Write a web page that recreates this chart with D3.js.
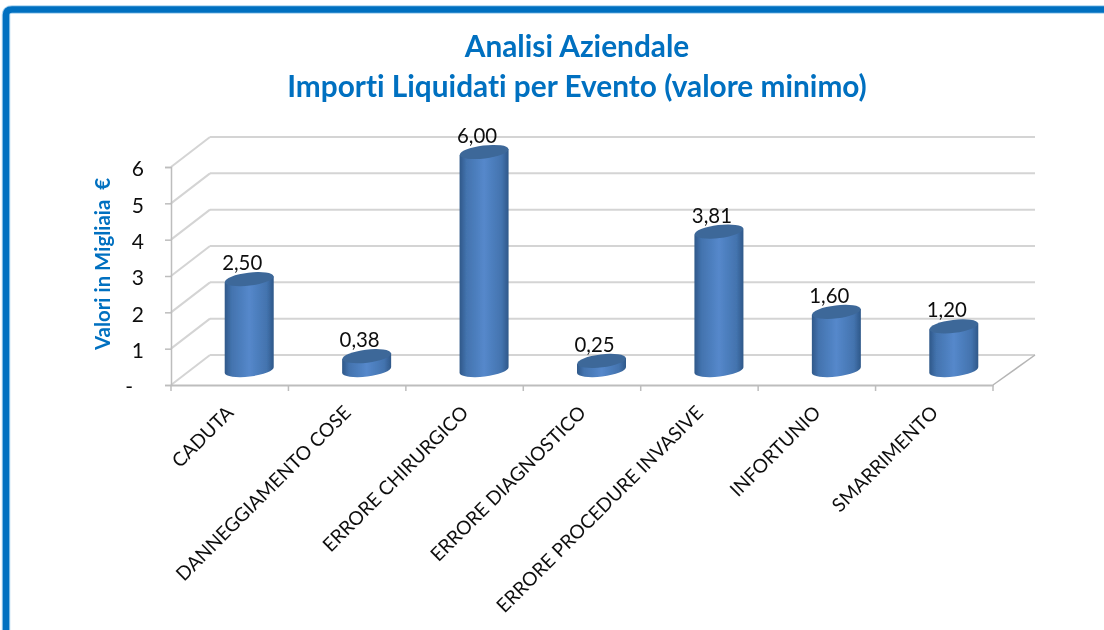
<!DOCTYPE html>
<html>
<head>
<meta charset="utf-8">
<script src="https://cdn.jsdelivr.net/npm/d3@7"></script>
<style>
html,body{margin:0;padding:0;background:#fff;overflow:hidden;}
text{font-family:Lato,"Open Sans",sans-serif;font-variant-ligatures:none;}
</style>
</head>
<body>
<script>
const categories = ['CADUTA','DANNEGGIAMENTO COSE','ERRORE CHIRURGICO','ERRORE DIAGNOSTICO','ERRORE PROCEDURE INVASIVE','INFORTUNIO','SMARRIMENTO'];
const values = [2.50,0.38,6.00,0.25,3.81,1.60,1.20];
const yTicks = [0,1,2,3,4,5,6];
const titleLines = ['Analisi Aziendale','Importi Liquidati per Evento (valore minimo)'];
const yLabel = 'Valori in Migliaia  €';

const svgWid = 1104, svgHt = 630;
const blue = '#0070c0';
const svg = d3.select('body').append('svg').attr('width',svgWid).attr('height',svgHt);

const defs = svg.append('defs');
const grad = defs.append('linearGradient').attr('id','cyl');
grad.append('stop').attr('offset','0%').attr('stop-color','#2f5889');
grad.append('stop').attr('offset','14%').attr('stop-color','#4373ae');
grad.append('stop').attr('offset','50%').attr('stop-color','#5588cb');
grad.append('stop').attr('offset','86%').attr('stop-color','#4373ae');
grad.append('stop').attr('offset','100%').attr('stop-color','#2f5889');
defs.append('filter').attr('id','soft').append('feGaussianBlur').attr('stdDeviation',0.4);

const root = svg.append('g').attr('filter','url(#soft)');

// frame: left and top only, runs off the page
const framePath = 'M6,640V15Q6,9.5 12,9.5H1110';
root.append('path').attr('d',framePath).attr('fill','none').attr('stroke','#a9d3f0').attr('stroke-width',8.5);
root.append('path').attr('d',framePath).attr('fill','none').attr('stroke',blue).attr('stroke-width',6.5);

// title
root.selectAll('.title').data(titleLines).enter().append('text').attr('class','title')
    .text(d=>d).attr('x',577).attr('y',(d,i)=>57+i*40)
    .attr('text-anchor','middle').attr('font-size','29.8px').attr('font-weight','bold').attr('fill',blue);

// 3d box: front plane + depth shift to the back wall
const depth = {x:39,y:-30};
const xScale = d3.scaleBand().domain(categories).range([171,993]);
const yScale = d3.scaleLinear().domain([0,6]).range([385,167]);

const axisColor = '#bdbdbd';
const grid = root.append('g').attr('fill','none').attr('stroke','#d4d4d4').attr('stroke-width',2);
// back wall lines
grid.selectAll('.back').data(yTicks).enter().append('line')
    .attr('x1',171+depth.x).attr('x2',993+depth.x+3)
    .attr('y1',d=>yScale(d)+depth.y).attr('y2',d=>yScale(d)+depth.y);
// side wall lines
grid.selectAll('.side').data(yTicks).enter().append('line')
    .attr('x1',171).attr('x2',171+depth.x)
    .attr('y1',d=>yScale(d)).attr('y2',d=>yScale(d)+depth.y);
// floor right edge
grid.append('line').attr('x1',993).attr('y1',yScale(0)).attr('x2',993+depth.x+3).attr('y2',yScale(0)+depth.y)
    .attr('stroke','#b5b5b5').attr('stroke-width',1.5);

// y axis
const yAxis = d3.axisLeft(yScale).tickValues(yTicks).tickSize(6).tickPadding(21)
    .tickFormat(d=>d===0?'-':d);
const yAxisG = root.append('g').attr('transform','translate(171,0)').call(yAxis);
yAxisG.selectAll('path,line').attr('stroke',axisColor).attr('stroke-width',1.5);
yAxisG.selectAll('text').attr('font-size','21px').attr('fill','#111').attr('y',2).style('font-family','Lato,"Open Sans",sans-serif');
yAxisG.selectAll('.tick').filter(d=>d===0).select('text').attr('dx',-11);

// x axis, ticks between the categories
const xAxis = d3.axisBottom(xScale).tickSize(0).tickFormat('');
const xAxisG = root.append('g').attr('transform',`translate(0,${yScale(0)})`).call(xAxis);
xAxisG.select('path').attr('stroke',axisColor).attr('stroke-width',2);
xAxisG.selectAll('.edge').data(d3.range(categories.length+1)).enter().append('line').attr('class','edge')
    .attr('x1',i=>171+i*xScale.bandwidth()).attr('x2',i=>171+i*xScale.bandwidth())
    .attr('y1',0).attr('y2',6).attr('stroke',axisColor).attr('stroke-width',1.5);

// category labels
root.selectAll('.cat').data(categories).enter().append('text').attr('class','cat')
    .text(d=>d).attr('text-anchor','end').attr('font-size','19.2px').attr('fill','#111')
    .attr('transform',d=>`translate(${xScale(d)+xScale.bandwidth()/2+5},${yScale(0)+29}) rotate(-45)`);

// y title
root.append('text').text(yLabel).attr('transform','translate(110,350) rotate(-90)')
    .attr('font-size','20.4px').attr('font-weight','bold').attr('fill',blue).attr('xml:space','preserve');

// cylinders
const rx = 24.5, ry = 6.5, tilt = -7;
const barH = d => yScale(0)-yScale(d);
const baseY = yScale(0)-15;
const cx = d => xScale(d)+xScale.bandwidth()/2+depth.x/2;

const bars = root.selectAll('.bar').data(values).enter().append('g').attr('class','bar')
    .attr('transform',(d,i)=>`translate(${cx(categories[i])},${baseY})`);
const dy = rx*Math.sin(-tilt*Math.PI/180);
bars.append('path').attr('fill','url(#cyl)')
    .attr('d',d=>`M${-rx},${dy}L${-rx},${dy-barH(d)}L${rx},${-dy-barH(d)}L${rx},${-dy}A${rx},${ry} ${tilt} 0 1 ${-rx},${dy}Z`);
bars.append('ellipse').attr('rx',rx).attr('ry',ry).attr('fill','#3d6899')
    .attr('transform',d=>`translate(0,${-barH(d)}) rotate(${tilt})`);

// value labels
root.selectAll('.val').data(values).enter().append('text').attr('class','val')
    .text(d=>d3.format('.2f')(d).replace('.',','))
    .attr('x',(d,i)=>cx(categories[i])-7).attr('y',d=>baseY-barH(d)-9)
    .attr('text-anchor','middle').attr('font-size','20.4px').attr('fill','#111');
</script>
</body>
</html>
